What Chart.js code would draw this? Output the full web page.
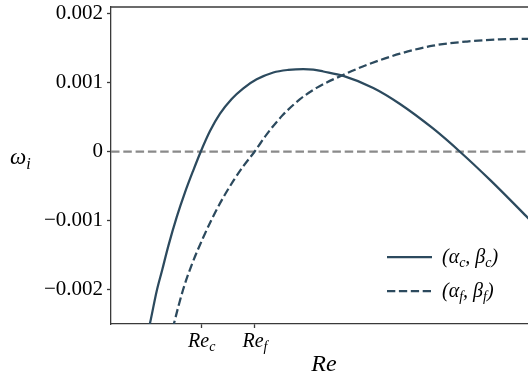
<!DOCTYPE html>
<html><head><meta charset="utf-8">
<script src="https://cdn.jsdelivr.net/npm/chart.js@4/dist/chart.umd.min.js"></script>
<style>
html,body{margin:0;padding:0;overflow:hidden;background:#fff;width:528px;height:376px}
#wrap{position:absolute;left:0;top:0;width:545px;height:376px}
</style>
</head><body><div id="wrap"><canvas id="c" width="545" height="376"></canvas></div>
<script>
// Re axis (arbitrary units, 0..100 across the plotted range)
const reC = [8.80, 9.15, 10.73, 12.00, 13.45, 15.42, 17.37, 19.32, 21.06, 23.24, 25.59, 28.33, 31.06, 34.20, 38.10, 41.60, 45.14, 47.50, 49.84, 54.53, 61.57, 67.84, 75.59, 81.92, 88.97, 97.65, 100];
const omegaC = [-0.00258, -0.00249, -0.00202, -0.00172, -0.00137, -0.00095, -0.00059, -0.00027, 0.0, 0.00030, 0.000552, 0.000765, 0.00092, 0.00105, 0.00115, 0.001187, 0.00120, 0.001192, 0.001164, 0.00110, 0.000925, 0.000693, 0.000337, 0.0, -0.000409, -0.000947, -0.001097];
const reF = [14.51, 14.86, 16.90, 18.90, 21.67, 24.01, 26.36, 28.71, 31.06, 33.69, 36.55, 40.38, 44.37, 48.36, 54.58, 60.09, 67.84, 75.59, 83.57, 91.31, 97.89, 100];
const omegaF = [-0.00257, -0.002476, -0.002007, -0.001649, -0.001242, -0.000935, -0.000664, -0.000424, -0.00021, 0.0, 0.000252, 0.000535, 0.000762, 0.00093, 0.001117, 0.00126, 0.001423, 0.001539, 0.001599, 0.00163, 0.001637, 0.001637];
const yTickValues = [-0.002, -0.001, 0, 0.001, 0.002];
const yTickLabels = ['\u22120.002', '\u22120.001', '0', '0.001', '0.002'];
const xTickValues = [21.3, 33.8];
const xTickLabels = ['Re_c', 'Re_f'];
const seriesLabels = ['(\u03b1_c, \u03b2_c)', '(\u03b1_f, \u03b2_f)'];
const xTitle = 'Re';
const yTitle = '\u03c9_i';

const LINE = '#2c4a5e';
const SPINE = '#3a3a3a';
const FONT = '"Liberation Serif", "Times New Roman", serif';

function parseRich(str){
  const parts = [];
  let buf = '';
  for (let i = 0; i < str.length; i++){
    if (str[i] === '_' && i + 1 < str.length){
      if (buf){ parts.push({t:buf, sub:false}); buf=''; }
      parts.push({t:str[i+1], sub:true});
      i++;
    } else buf += str[i];
  }
  if (buf) parts.push({t:buf, sub:false});
  return parts;
}
function drawRich(ctx, str, x, y, size, align){
  const parts = parseRich(str);
  const subSize = size * 0.7;
  const fonts = parts.map(p => 'italic ' + (p.sub ? subSize : size) + 'px ' + FONT);
  let total = 0;
  const widths = parts.map((p, i) => { ctx.font = fonts[i]; const w = ctx.measureText(p.t).width; total += w; return w; });
  let cx = x;
  if (align === 'center') cx = x - total / 2;
  else if (align === 'right') cx = x - total;
  ctx.textAlign = 'left';
  ctx.textBaseline = 'alphabetic';
  parts.forEach((p, i) => {
    ctx.font = fonts[i];
    ctx.fillText(p.t, cx, p.sub ? y + size * 0.22 : y);
    cx += widths[i];
  });
}

const decor = {
  id: 'decor',
  beforeDatasetsDraw(chart){
    const {ctx, chartArea:a, scales:{y}} = chart;
    const y0 = y.getPixelForValue(0);
    ctx.save();
    ctx.strokeStyle = '#8a8a8a';
    ctx.lineWidth = 2.2;
    ctx.setLineDash([8.5, 3.8]);
    ctx.beginPath(); ctx.moveTo(a.left, y0); ctx.lineTo(a.right, y0); ctx.stroke();
    ctx.restore();
  },
  afterDraw(chart){
    const {ctx, chartArea:a, scales:{x}} = chart;
    ctx.save();
    ctx.strokeStyle = SPINE; ctx.lineWidth = 1.3;
    ctx.beginPath(); ctx.moveTo(a.left - 0.65, a.top); ctx.lineTo(a.right, a.top); ctx.stroke();
    ctx.fillStyle = '#000';
    xTickValues.forEach((v, i) => drawRich(ctx, xTickLabels[i], x.getPixelForValue(v), 347, 20, 'center'));
    drawRich(ctx, xTitle, (a.left + a.right) / 2, 371, 24, 'center');
    drawRich(ctx, yTitle, 10, 164, 23, 'left');
    const rows = [{y:257, dash:[]}, {y:291, dash:[8.3, 3.6]}];
    rows.forEach((r, i) => {
      ctx.strokeStyle = LINE; ctx.lineWidth = 2.25; ctx.setLineDash(r.dash);
      ctx.beginPath(); ctx.moveTo(387, r.y); ctx.lineTo(432, r.y); ctx.stroke();
      ctx.setLineDash([]);
      drawRich(ctx, seriesLabels[i], 442, r.y + 6, 20, 'left');
    });
    ctx.restore();
  }
};

new Chart(document.getElementById('c'), {
  type: 'line',
  data: {
    datasets: [
      { label: seriesLabels[0], data: reC.map((v, i) => ({x: v, y: omegaC[i]})),
        borderColor: LINE, borderWidth: 2.25, pointRadius: 0, fill: false, cubicInterpolationMode: 'monotone' },
      { label: seriesLabels[1], data: reF.map((v, i) => ({x: v, y: omegaF[i]})),
        borderColor: LINE, borderWidth: 2.25, borderDash: [8.3, 3.6], pointRadius: 0, fill: false, cubicInterpolationMode: 'monotone' }
    ]
  },
  options: {
    responsive: false, animation: false, devicePixelRatio: 1,
    layout: { padding: { left: 0, right: 8, top: 7, bottom: 0 } },
    plugins: { legend: { display: false }, tooltip: { enabled: false } },
    scales: {
      x: {
        type: 'linear', min: 0, max: 100,
        afterBuildTicks: s => { s.ticks = xTickValues.map(v => ({value: v})); },
        afterFit: s => { s.height = 52; s.paddingLeft = 0; s.paddingRight = 0; },
        ticks: { callback: () => '', autoSkip: false, padding: 0 },
        grid: { drawOnChartArea: false, drawTicks: true, tickLength: 4, tickColor: SPINE, tickWidth: 1.3 },
        border: { display: true, color: SPINE, width: 1.3 }
      },
      y: {
        min: -0.0025, max: 0.0021,
        afterBuildTicks: s => { s.ticks = yTickValues.map(v => ({value: v})); },
        afterFit: s => { s.width = 111; s.paddingTop = 0; s.paddingBottom = 0; },
        ticks: {
          autoSkip: false, padding: 4, color: '#000',
          font: { family: FONT, size: 21 },
          callback: v => { const i = yTickValues.findIndex(t => Math.abs(t - v) < 1e-9); return i >= 0 ? yTickLabels[i] : ''; }
        },
        grid: { drawOnChartArea: false, drawTicks: true, tickLength: 4, tickColor: SPINE, tickWidth: 1.3 },
        border: { display: true, color: SPINE, width: 1.3 }
      }
    }
  },
  plugins: [decor]
});
</script>
</body></html>
